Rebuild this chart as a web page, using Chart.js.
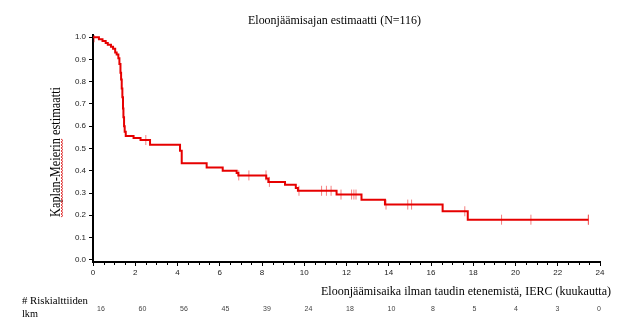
<!DOCTYPE html>
<html>
<head>
<meta charset="utf-8">
<script src="https://cdn.jsdelivr.net/npm/chart.js@4/dist/chart.umd.min.js"></script>
<style>
  html, body { margin: 0; padding: 0; background: #fff; }
  #wrap { width: 632px; height: 331px; }
</style>
</head>
<body>
<div id="wrap"><canvas id="c" width="632" height="331"></canvas></div>
<script>
// ---- data ----
const months = [0, 0.28, 0.45, 0.6, 0.7, 0.85, 0.95, 1.05, 1.12, 1.2, 1.25, 1.3, 1.33, 1.36, 1.39, 1.42, 1.44, 1.47, 1.5, 1.55,
  1.92, 2.25, 2.7, 4.12, 4.2, 5.38, 6.14, 6.8, 6.88, 8.2, 8.3, 9.09, 9.6, 9.7, 11.53, 12.71, 13.82, 16.55, 17.74, 23.45];
const survival = [1.0, 0.991, 0.983, 0.974, 0.966, 0.957, 0.948, 0.931, 0.922, 0.905, 0.88, 0.84, 0.81, 0.77, 0.73, 0.68, 0.64, 0.6, 0.575, 0.556,
  0.547, 0.538, 0.517, 0.49, 0.434, 0.415, 0.40, 0.39, 0.379, 0.365, 0.35, 0.337, 0.322, 0.31, 0.293, 0.27, 0.248, 0.218, 0.18, 0.18];
const censorMonths = [0.06, 2.5, 6.9, 7.38, 8.19, 8.35, 9.75, 10.82, 11.05, 11.27, 11.74, 12.24, 12.35, 12.45, 13.87, 14.9, 15.08, 17.6, 19.34, 20.73, 23.45, 23.45];
const censorSurvival = [1.0, 0.538, 0.379, 0.379, 0.379, 0.35, 0.31, 0.31, 0.31, 0.31, 0.293, 0.293, 0.293, 0.293, 0.248, 0.248, 0.248, 0.218, 0.18, 0.18, 0.18, 0.18];
const xTicks = [0, 2, 4, 6, 8, 10, 12, 14, 16, 18, 20, 22, 24];
const yTicks = [0.0, 0.1, 0.2, 0.3, 0.4, 0.5, 0.6, 0.7, 0.8, 0.9, 1.0];
const riskCounts = [16, 60, 56, 45, 39, 24, 18, 10, 8, 5, 4, 3, 0];

const titleText = 'Eloonjäämisajan estimaatti (N=116)';
const xTitleText = 'Eloonjäämisaika ilman taudin etenemistä, IERC (kuukautta)';
const yTitleText = 'Kaplan-Meierin estimaatti';
const riskLabel1 = '# Riskialttiiden';
const riskLabel2 = 'lkm';

function fitText(ctx, text, x, y, font, targetWidth, align) {
  ctx.save();
  ctx.font = font;
  const w = ctx.measureText(text).width;
  const s = targetWidth / w;
  ctx.translate(x, y);
  ctx.scale(s, 1);
  ctx.textAlign = align || 'left';
  ctx.textBaseline = 'middle';
  ctx.fillStyle = '#000';
  ctx.fillText(text, 0, 0);
  ctx.restore();
}

const textPlugin = {
  id: 'texts',
  afterDraw(chart) {
    const ctx = chart.ctx;
    const ca = chart.chartArea;
    const serif = '"Liberation Serif", "Times New Roman", serif';
    // title
    fitText(ctx, titleText, 248, 21, '13px ' + serif, 173, 'left');
    // x axis title
    fitText(ctx, xTitleText, 321, 292, '13px ' + serif, 290, 'left');
    // y axis title (rotated)
    ctx.save();
    ctx.translate(56, 152);
    ctx.rotate(-Math.PI / 2);
    ctx.font = '14px ' + serif;
    const w = ctx.measureText(yTitleText).width;
    ctx.scale(130 / w, 1);
    ctx.textAlign = 'center';
    ctx.textBaseline = 'middle';
    ctx.fillStyle = '#000';
    ctx.fillText(yTitleText, 0, 0);
    ctx.restore();
    // red squiggle under "Kaplan-Meierin"
    ctx.save();
    ctx.strokeStyle = '#e03030';
    ctx.lineWidth = 1;
    ctx.beginPath();
    let k = 0;
    for (let y = 217; y >= 138; y -= 1.5) {
      const x = 62 + (k % 2 === 0 ? -1 : 1);
      if (k === 0) ctx.moveTo(x, y); else ctx.lineTo(x, y);
      k++;
    }
    ctx.stroke();
    ctx.restore();
    // risk table labels
    fitText(ctx, riskLabel1, 22, 301, '11px ' + serif, 66, 'left');
    fitText(ctx, riskLabel2, 22, 314, '11px ' + serif, 16, 'left');
    // risk counts
    ctx.save();
    ctx.font = '7px "Liberation Sans", Arial, sans-serif';
    ctx.fillStyle = '#444';
    ctx.textAlign = 'center';
    ctx.textBaseline = 'middle';
    const first = ca.left + 8, last = ca.right - 1;
    const step = (last - first) / (riskCounts.length - 1);
    riskCounts.forEach((n, i) => {
      ctx.fillText(String(n), first + i * step, 309);
    });
    ctx.restore();
    // minor x ticks
    const xs = chart.scales.x;
    ctx.save();
    ctx.strokeStyle = '#000';
    ctx.lineWidth = 1;
    ctx.beginPath();
    for (let v = 0.5; v < 24; v += 0.5) {
      if (Math.abs(v % 2) < 1e-9) continue;
      const px = Math.round(xs.getPixelForValue(v)) + 0.5;
      ctx.moveTo(px, ca.bottom + 1);
      ctx.lineTo(px, ca.bottom + 3);
    }
    ctx.stroke();
    ctx.restore();
  }
};

const ctx = document.getElementById('c').getContext('2d');
new Chart(ctx, {
  type: 'scatter',
  data: {
    datasets: [
      {
        label: 'KM',
        data: months.map((m, i) => ({ x: m, y: survival[i] })),
        showLine: true,
        stepped: 'before',
        borderColor: '#e60000',
        backgroundColor: '#e60000',
        borderWidth: 2,
        pointRadius: 0,
        fill: false,
        order: 0
      },
      {
        label: 'Censored',
        data: censorMonths.map((m, i) => ({ x: m, y: censorSurvival[i] })),
        showLine: false,
        pointStyle: 'line',
        rotation: 90,
        pointRadius: 5,
        borderWidth: 1,
        borderColor: 'rgba(240,60,60,0.65)',
        backgroundColor: 'rgba(240,60,60,0.65)',
        order: 1
      }
    ]
  },
  options: {
    responsive: false,
    animation: false,
    events: [],
    layout: { padding: { left: 0, right: 32, top: 35, bottom: 49 } },
    plugins: { legend: { display: false }, tooltip: { enabled: false }, title: { display: false } },
    scales: {
      x: {
        type: 'linear',
        min: 0,
        max: 24,
        afterBuildTicks: s => { s.ticks = xTicks.map(v => ({ value: v })); },
        afterFit: s => { s.height = 20; },
        ticks: {
          font: { family: '"Liberation Sans", Arial, sans-serif', size: 8 },
          color: '#222',
          padding: 2,
          maxRotation: 0,
          autoSkip: false
        },
        grid: { display: true, drawOnChartArea: false, drawTicks: true, tickLength: 4, color: '#000', lineWidth: 1 },
        border: { display: true, color: '#000', width: 2 }
      },
      y: {
        type: 'linear',
        min: -0.01,
        max: 1.01,
        afterBuildTicks: s => { s.ticks = yTicks.map(v => ({ value: v })); },
        afterFit: s => { s.width = 93; },
        ticks: {
          font: { family: '"Liberation Sans", Arial, sans-serif', size: 8 },
          color: '#222',
          padding: 3,
          callback: v => Number(v).toFixed(1),
          autoSkip: false
        },
        grid: { display: true, drawOnChartArea: false, drawTicks: true, tickLength: 4, color: '#000', lineWidth: 1 },
        border: { display: true, color: '#000', width: 2 }
      }
    }
  },
  plugins: [textPlugin]
});
</script>
</body>
</html>
